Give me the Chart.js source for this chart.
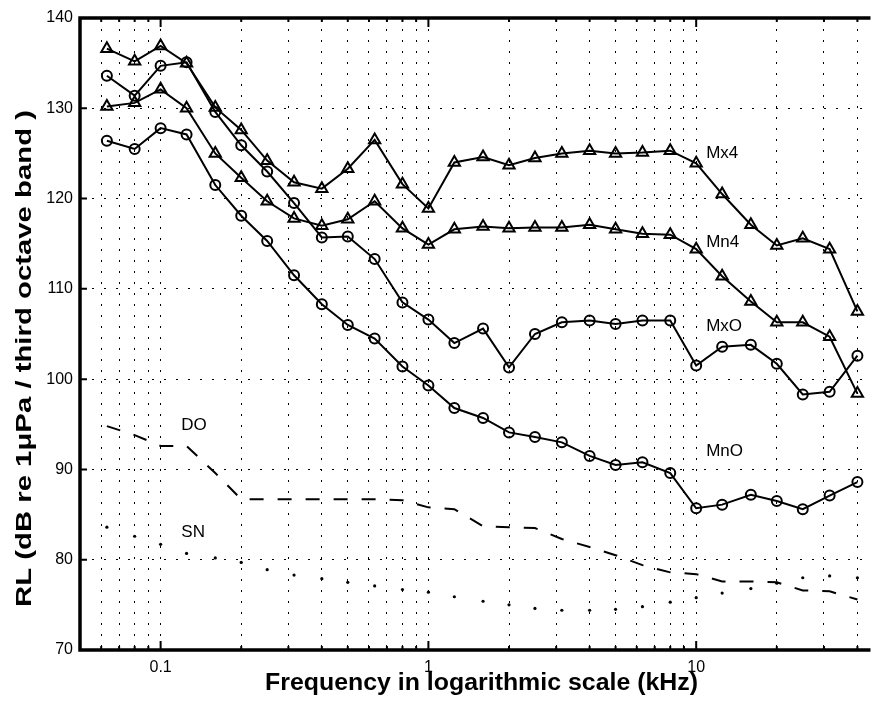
<!DOCTYPE html>
<html><head><meta charset="utf-8">
<script src="https://cdn.jsdelivr.net/npm/chart.js@4/dist/chart.umd.min.js"></script>
<style>html,body{margin:0;padding:0;background:#fff;}canvas{display:block;}</style>
</head><body>
<canvas id="c" width="877" height="704"></canvas>
<script>
// third-octave band centre frequencies (kHz)
const freqs = [0.063,0.08,0.1,0.125,0.16,0.2,0.25,0.315,0.4,0.5,0.63,0.8,1,1.25,1.6,2,2.5,3.15,4,5,6.3,8,10,12.5,16,20,25,31.5,40];
// received levels (dB re 1 uPa / third octave band)
const mx4 = [136.6,135.2,136.9,135.0,130.1,127.6,124.2,121.8,121.1,123.3,126.5,121.6,118.9,124.0,124.6,123.7,124.5,125.0,125.3,125.0,125.1,125.3,123.9,120.5,117.1,114.8,115.6,114.4,107.5];
const mn4 = [130.2,130.6,132.1,130.0,125.0,122.3,119.7,117.8,117.0,117.7,119.7,116.7,114.9,116.6,116.9,116.7,116.8,116.8,117.1,116.6,116.1,116.0,114.4,111.4,108.6,106.3,106.3,104.7,98.4];
const mxO = [133.6,131.4,134.7,135.1,129.6,125.9,123.0,119.5,115.7,115.8,113.3,108.5,106.6,104.0,105.6,101.3,105.0,106.3,106.5,106.1,106.5,106.5,101.5,103.6,103.8,101.7,98.3,98.6,102.6];
const mnO = [126.4,125.5,127.8,127.1,121.5,118.1,115.3,111.5,108.3,106.0,104.5,101.4,99.3,96.8,95.7,94.1,93.6,93.0,91.5,90.5,90.8,89.6,85.7,86.1,87.2,86.5,85.6,87.1,88.6];
const dO  = [94.8,93.8,92.6,92.6,89.6,86.7,86.7,86.7,86.7,86.7,86.7,86.6,85.8,85.6,83.7,83.6,83.5,82.3,81.4,80.5,79.4,78.6,78.4,77.6,77.6,77.5,76.6,76.5,75.6];
const sN  = [83.6,82.6,81.7,80.7,80.2,79.7,78.9,78.3,77.9,77.5,77.1,76.7,76.4,75.9,75.4,75.0,74.6,74.4,74.4,74.5,74.8,75.3,75.8,76.3,76.8,77.4,78.0,78.2,78.0];

// axes
const xGrid = [0.06,0.07,0.08,0.09,0.1,0.2,0.3,0.4,0.5,0.6,0.7,0.8,0.9,1,2,3,4,5,6,7,8,9,10,20,30,40];
const xLabelValues = [0.1,1,10];
const xLabelTexts = ['0.1','1','10'];
const yTicks = [70,80,90,100,110,120,130,140];

// in-plot text labels
const labelTexts = ['Mx4','Mn4','MxO','MnO','DO','SN'];
const labelX = [10.9,10.9,10.9,10.9,0.1195,0.1195];
const labelY = [125.0,115.1,105.9,92.0,94.9,83.0];

const xTitle = 'Frequency in logarithmic scale (kHz)';
const yTitle = 'RL (dB re 1\u03bcPa / third octave band )';

const FONT = '"Liberation Sans", Arial, Helvetica, sans-serif';
const mk = arr => freqs.map((f,i)=>({x:f,y:arr[i]}));
const hollow = 'rgba(0,0,0,0)';

const decor = {
  id:'decor',
  afterDraw(chart){
    const ctx = chart.ctx, a = chart.chartArea;
    const xs = chart.scales.x, ys = chart.scales.y;
    ctx.save();
    ctx.strokeStyle = '#000';
    // frame
    ctx.lineWidth = 3.5;
    ctx.beginPath();
    ctx.moveTo(a.right+2, a.top); ctx.lineTo(a.left, a.top);
    ctx.lineTo(a.left, a.bottom); ctx.lineTo(a.right+2, a.bottom);
    ctx.stroke();
    // inward ticks
    ctx.lineWidth = 2;
    ctx.beginPath();
    xGrid.forEach(v=>{
      const px = xs.getPixelForValue(v);
      const len = xLabelValues.includes(v) ? 9 : 4;
      ctx.moveTo(px, a.bottom); ctx.lineTo(px, a.bottom-len);
      ctx.moveTo(px, a.top); ctx.lineTo(px, a.top+len);
    });
    yTicks.forEach(v=>{
      const py = ys.getPixelForValue(v);
      ctx.moveTo(a.left, py); ctx.lineTo(a.left+7, py);
    });
    ctx.stroke();
    // series labels
    ctx.fillStyle = '#000';
    ctx.font = '17px ' + FONT;
    ctx.textAlign = 'left'; ctx.textBaseline = 'middle';
    labelTexts.forEach((t,i)=>{
      ctx.fillText(t, xs.getPixelForValue(labelX[i]), ys.getPixelForValue(labelY[i]));
    });
    // x title
    ctx.font = 'bold 23px ' + FONT;
    ctx.textAlign = 'center'; ctx.textBaseline = 'alphabetic';
    let w = ctx.measureText(xTitle).width;
    ctx.save();
    ctx.translate(481.5, 689.5);
    ctx.scale(433/w, 1);
    ctx.fillText(xTitle, 0, 0);
    ctx.restore();
    // y title
    ctx.font = 'bold 22px ' + FONT;
    w = ctx.measureText(yTitle).width;
    ctx.save();
    ctx.translate(31, 358.5);
    ctx.rotate(-Math.PI/2);
    ctx.scale(497/w, 1);
    ctx.fillText(yTitle, 0, 0);
    ctx.restore();
    ctx.restore();
  }
};

new Chart(document.getElementById('c'), {
  type:'line',
  data:{ datasets:[
    {label:'Mx4', data:mk(mx4), borderColor:'#000', borderWidth:2, tension:0, fill:false,
     pointStyle:'triangle', pointRadius:6.5, pointBorderWidth:2, pointBorderColor:'#000', pointBackgroundColor:hollow},
    {label:'Mn4', data:mk(mn4), borderColor:'#000', borderWidth:2, tension:0, fill:false,
     pointStyle:'triangle', pointRadius:6.5, pointBorderWidth:2, pointBorderColor:'#000', pointBackgroundColor:hollow},
    {label:'MxO', data:mk(mxO), borderColor:'#000', borderWidth:2, tension:0, fill:false,
     pointStyle:'circle', pointRadius:5, pointBorderWidth:2, pointBorderColor:'#000', pointBackgroundColor:hollow},
    {label:'MnO', data:mk(mnO), borderColor:'#000', borderWidth:2, tension:0, fill:false,
     pointStyle:'circle', pointRadius:5, pointBorderWidth:2, pointBorderColor:'#000', pointBackgroundColor:hollow},
    {label:'DO', data:mk(dO), borderColor:'#000', borderWidth:2, borderDash:[14,14], tension:0, fill:false, pointRadius:0},
    {label:'SN', data:mk(sN), showLine:false, pointStyle:'circle', pointRadius:1.6, pointBorderWidth:0, pointBackgroundColor:'#000', borderColor:'#000'}
  ]},
  options:{
    responsive:false, animation:false, devicePixelRatio:1,
    layout:{padding:{top:18, right:0, left:0, bottom:0}},
    plugins:{legend:{display:false}, tooltip:{enabled:false}},
    scales:{
      x:{ type:'logarithmic', min:0.05, max:44,
        afterBuildTicks: s => { s.ticks = xGrid.map(v=>({value:v})); },
        afterFit: s => { s.height = 54; },
        ticks:{ autoSkip:false, maxRotation:0, minRotation:0, padding:8, color:'#000',
          font:{family:FONT, size:16},
          callback: v => { const i = xLabelValues.findIndex(t=>Math.abs(t-v)<1e-9); return i>=0 ? xLabelTexts[i] : ''; } },
        grid:{ color:'#000', lineWidth:1, drawTicks:false },
        border:{ display:false, dash:[2,9] }
      },
      y:{ type:'linear', min:70, max:140,
        afterBuildTicks: s => { s.ticks = yTicks.map(v=>({value:v})); },
        afterFit: s => { s.width = 80; },
        ticks:{ padding:7, color:'#000', font:{family:FONT, size:16} },
        grid:{ color:'#000', lineWidth:1, drawTicks:false },
        border:{ display:false, dash:[2,10] }
      }
    }
  },
  plugins:[decor]
});
</script>
</body></html>
